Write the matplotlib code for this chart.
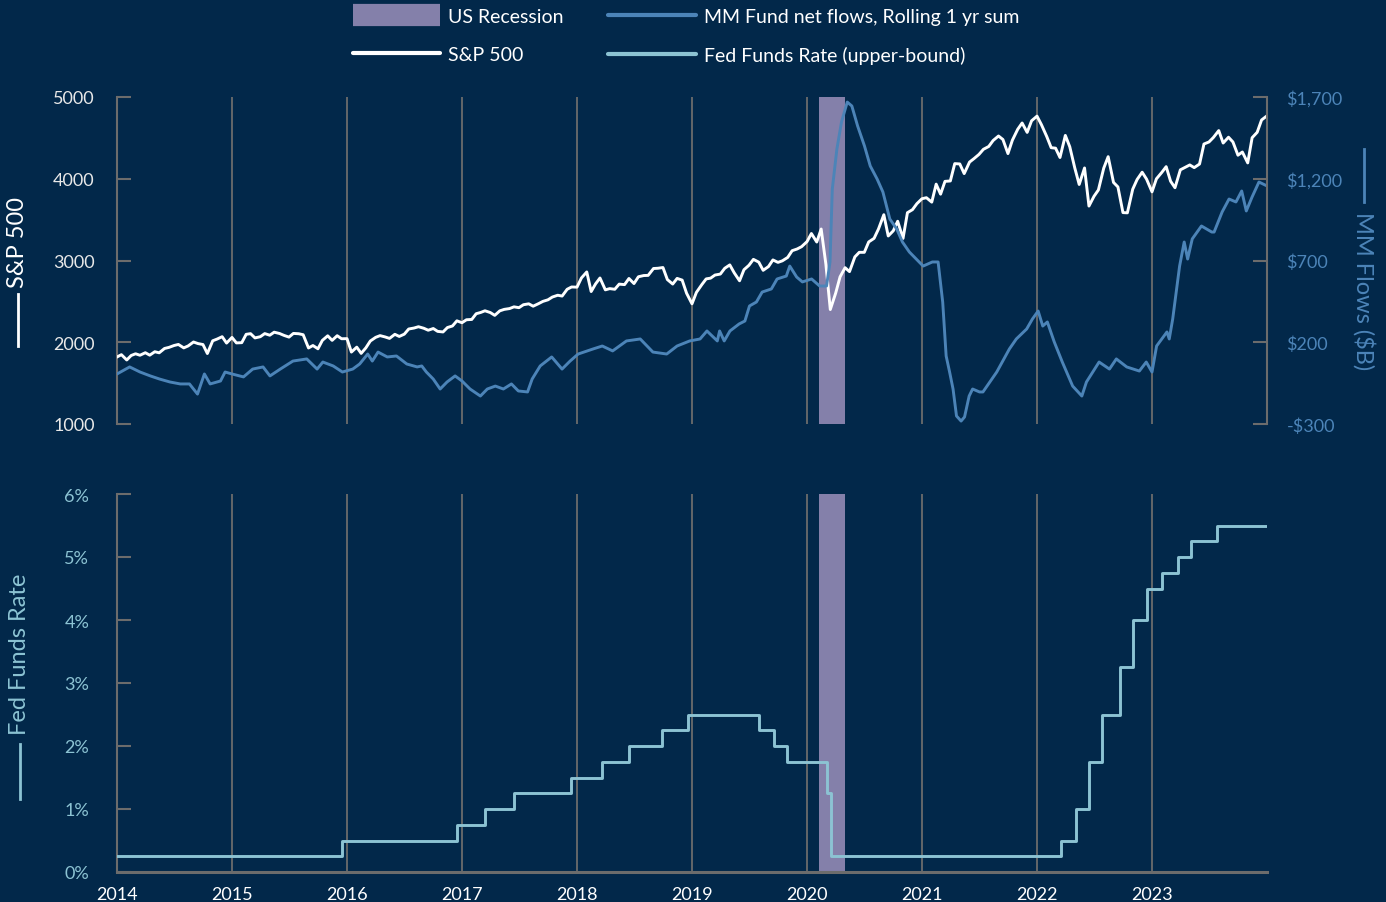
import pandas as pd
import numpy as np
import matplotlib
matplotlib.use('Agg')
import matplotlib.pyplot as plt
from matplotlib.lines import Line2D
from matplotlib.ticker import FuncFormatter

# S&P 500, values on the 1st and 15th of each month (2014-01-01 .. 2024-01-01)
sp_start = '2014-01-01'
sp_values = [
    1820, 1848, 1783, 1838, 1859, 1841, 1872, 1842, 1884, 1871, 1924, 1937,
    1960, 1973, 1931, 1955, 2003, 1984, 1972, 1862, 2018, 2039, 2068, 1990,
    2059, 1992, 1995, 2097, 2105, 2053, 2068, 2106, 2086, 2123, 2107, 2084,
    2063, 2108, 2104, 2092, 1930, 1960, 1920, 2023, 2079, 2023, 2080, 2043,
    2044, 1880, 1940, 1864, 1932, 2015, 2060, 2081, 2065, 2047, 2097, 2071,
    2099, 2162, 2174, 2190, 2171, 2147, 2168, 2133, 2126, 2180, 2199, 2262,
    2239, 2275, 2279, 2349, 2364, 2385, 2363, 2329, 2384, 2402, 2412, 2433,
    2423, 2459, 2470, 2441, 2472, 2500, 2519, 2553, 2575, 2565, 2648, 2676,
    2674, 2786, 2860, 2620, 2714, 2786, 2641, 2656, 2648, 2711, 2705, 2780,
    2718, 2801, 2816, 2818, 2902, 2905, 2914, 2767, 2712, 2781, 2760, 2600,
    2470, 2610, 2704, 2775, 2784, 2822, 2834, 2905, 2946, 2850, 2752, 2887,
    2942, 3014, 2980, 2880, 2926, 3007, 2977, 2996, 3038, 3120, 3141, 3169,
    3231, 3330, 3226, 3385, 2954, 2400, 2600, 2800, 2912, 2864, 3044, 3100,
    3100, 3227, 3271, 3385, 3560, 3300, 3363, 3480, 3270, 3585, 3622, 3695,
    3756, 3768, 3714, 3934, 3811, 3968, 3973, 4185, 4181, 4063, 4204, 4246,
    4298, 4360, 4395, 4468, 4523, 4480, 4308, 4471, 4605, 4682, 4567, 4709,
    4766, 4662, 4516, 4380, 4374, 4260, 4530, 4392, 4132, 3930, 4132, 3666,
    3785, 3863, 4130, 4270, 3955, 3900, 3586, 3583, 3872, 3991, 4080, 3995,
    3840, 3999, 4077, 4148, 3970, 3890, 4109, 4137, 4169, 4136, 4180, 4425,
    4450, 4505, 4589, 4437, 4508, 4450, 4288, 4327, 4194, 4502, 4568, 4719,
    4770,
]

# MM fund net flows, rolling 1 yr sum ($B)
mm_years = [
    2014.00, 2014.11, 2014.20, 2014.29, 2014.37, 2014.46, 2014.55, 2014.63, 2014.70, 2014.76, 2014.81, 2014.90, 2014.94,
    2015.00, 2015.10, 2015.18, 2015.27, 2015.33, 2015.42, 2015.53, 2015.65, 2015.74, 2015.79, 2015.88, 2015.96,
    2016.05, 2016.11, 2016.18, 2016.22, 2016.27, 2016.35, 2016.43, 2016.52, 2016.61, 2016.65, 2016.69, 2016.75, 2016.81, 2016.87, 2016.94,
    2017.00, 2017.07, 2017.16, 2017.22, 2017.29, 2017.36, 2017.43, 2017.49, 2017.57, 2017.61, 2017.68, 2017.78, 2017.87, 2017.94,
    2018.01, 2018.09, 2018.14, 2018.22, 2018.31, 2018.43, 2018.55, 2018.66, 2018.78, 2018.87, 2018.98,
    2019.07, 2019.13, 2019.22, 2019.24, 2019.28, 2019.33, 2019.41, 2019.46, 2019.50, 2019.56, 2019.61, 2019.69, 2019.74, 2019.82, 2019.85, 2019.91, 2019.96,
    2020.04, 2020.11, 2020.17, 2020.20, 2020.22, 2020.26, 2020.30, 2020.35, 2020.39, 2020.44, 2020.50, 2020.55, 2020.61, 2020.66, 2020.72, 2020.78, 2020.83, 2020.89, 2020.95,
    2021.01, 2021.09, 2021.14, 2021.18, 2021.21, 2021.24, 2021.27, 2021.30, 2021.34, 2021.37, 2021.41, 2021.44, 2021.50, 2021.53, 2021.65, 2021.76, 2021.82, 2021.91, 2021.96,
    2022.01, 2022.05, 2022.09, 2022.15, 2022.22, 2022.31, 2022.39, 2022.43, 2022.54, 2022.63, 2022.69, 2022.78, 2022.89, 2022.95,
    2023.00, 2023.04, 2023.13, 2023.15, 2023.18, 2023.24, 2023.28, 2023.31, 2023.35, 2023.43, 2023.52, 2023.54, 2023.61, 2023.67, 2023.73, 2023.78, 2023.82, 2023.87, 2023.93, 2024.00,
]
mm_values = [
    6, 49, 18, -6, -25, -43, -55, -55, -117, 6, -55, -37, 18,
    6, -12, 36, 49, -6, 36, 85, 98, 36, 79, 55, 18,
    36, 67, 128, 85, 140, 110, 116, 67, 49, 55, 18, -25, -86, -43, -6,
    -37, -86, -129, -86, -68, -86, -55, -98, -104, -25, 55, 110, 36, 85,
    128, 147, 159, 177, 147, 208, 220, 140, 128, 177, 208,
    220, 269, 208, 269, 208, 269, 312, 330, 422, 446, 507, 526, 587, 605, 666, 599, 569,
    587, 544, 544, 691, 1137, 1382, 1547, 1669, 1645, 1523, 1400, 1278, 1198, 1119, 954, 893, 813, 752, 709,
    666, 691, 691, 446, 116, 18, -86, -251, -282, -257, -129, -86, -104, -104, 18, 159, 220, 281, 342,
    391, 299, 324, 202, 79, -68, -129, -43, 79, 36, 98, 49, 24, 79,
    18, 177, 263, 220, 342, 666, 813, 709, 832, 911, 874, 874, 997, 1076, 1058, 1125, 1003, 1088, 1180, 1156,
]

# Fed funds target rate, upper bound (%), dates of change
fed_dates = ['2014-01-01', '2015-12-17', '2016-12-15', '2017-03-16', '2017-06-15', '2017-12-14',
             '2018-03-22', '2018-06-14', '2018-09-27', '2018-12-20', '2019-08-01', '2019-09-19',
             '2019-10-31', '2020-03-04', '2020-03-16', '2022-03-17', '2022-05-05', '2022-06-16',
             '2022-07-28', '2022-09-22', '2022-11-03', '2022-12-15', '2023-02-02', '2023-03-23',
             '2023-05-04', '2023-07-27', '2023-12-31']
fed_rates = [0.25, 0.50, 0.75, 1.00, 1.25, 1.50, 1.75, 2.00, 2.25, 2.50, 2.25, 2.00,
             1.75, 1.25, 0.25, 0.50, 1.00, 1.75, 2.50, 3.25, 4.00, 4.50, 4.75, 5.00,
             5.25, 5.50, 5.50]

recession = (2020.10, 2020.33)
years = list(range(2014, 2024))

BG = '#02284a'
GRID = '#6c6c6c'
WHITE = '#ffffff'
MM_BLUE = '#4c84b8'
FED_BLUE = '#8cc3d3'
REC = '#8480aa'


def to_year(dates):
    d = pd.to_datetime(dates)
    return np.asarray(d.year + (d.dayofyear - 1) / 365.25)


def plot_chart():
    plt.rcParams['font.family'] = ['Lato', 'DejaVu Sans']
    W, H = 1386, 903
    fig = plt.figure(figsize=(W / 100, H / 100), dpi=100, facecolor=BG)

    sp_x = to_year(pd.date_range(sp_start, periods=len(sp_values), freq='SMS'))
    fed_x = to_year(fed_dates)

    # --- top panel: S&P 500 + MM flows
    ax1 = fig.add_axes([117 / W, 1 - 425 / H, 1150 / W, 327 / H])
    ax1.set_facecolor(BG)
    ax1.axvspan(*recession, color=REC, lw=0, zorder=1)
    ax1.plot(sp_x, sp_values, color=WHITE, lw=2.1, zorder=3)
    ax1.set_xlim(2014, 2024)
    ax1.set_ylim(1000, 5000)
    ax1.set_yticks([1000, 2000, 3000, 4000, 5000])
    ax1.set_xticks(years)
    ax1.grid(axis='x', color=GRID, lw=1.3, zorder=0)
    ax1.set_axisbelow(True)
    ax1.tick_params(axis='x', length=0, labelbottom=False)
    ax1.tick_params(axis='y', direction='in', length=10, width=1.5, color=GRID,
                    labelcolor='#e8e8e8', labelsize=13, pad=16)
    for s in ['top', 'bottom', 'right']:
        ax1.spines[s].set_visible(False)
    ax1.spines['left'].set_color(GRID)
    ax1.spines['left'].set_linewidth(1.5)

    ax2 = ax1.twinx()
    ax2.plot(mm_years, mm_values, color=MM_BLUE, lw=2.1)
    ax2.set_ylim(-300, 1700)
    ax2.set_yticks([-300, 200, 700, 1200, 1700])
    ax2.yaxis.set_major_formatter(FuncFormatter(
        lambda v, _: ('-$' if v < 0 else '$') + f'{abs(v):,.0f}'))
    ax2.tick_params(axis='y', direction='in', length=10, width=1.5, color=GRID,
                    labelcolor=MM_BLUE, labelsize=13, pad=14)
    for s in ['top', 'bottom', 'left']:
        ax2.spines[s].set_visible(False)
    ax2.spines['right'].set_color(GRID)
    ax2.spines['right'].set_linewidth(1.5)

    # --- bottom panel: Fed funds rate
    ax3 = fig.add_axes([117 / W, 1 - 873 / H, 1150 / W, 378 / H])
    ax3.set_facecolor(BG)
    ax3.axvspan(*recession, color=REC, lw=0, zorder=1)
    ax3.plot(fed_x, fed_rates, color=FED_BLUE, lw=2.1, drawstyle='steps-post', zorder=3)
    ax3.set_xlim(2014, 2024)
    ax3.set_ylim(0, 6)
    ax3.set_xticks(years)
    ax3.set_xticklabels([str(y) for y in years])
    ax3.set_yticks(range(0, 7))
    ax3.yaxis.set_major_formatter(FuncFormatter(lambda v, _: f'{v:.0f}%'))
    ax3.grid(axis='x', color=GRID, lw=1.3, zorder=0)
    ax3.set_axisbelow(True)
    ax3.tick_params(axis='x', length=0, labelcolor=WHITE, labelsize=13, pad=10)
    ax3.tick_params(axis='y', direction='in', length=10, width=1.5, color=GRID,
                    labelcolor=FED_BLUE, labelsize=13, pad=20)
    for s in ['top', 'right']:
        ax3.spines[s].set_visible(False)
    for s in ['left', 'bottom']:
        ax3.spines[s].set_color(GRID)
    ax3.spines['left'].set_linewidth(1.5)
    ax3.spines['bottom'].set_linewidth(2.2)

    # axis titles with a short line key
    def side_label(x, y_text, y0, y1, text, color, rot):
        fig.text(x / W, 1 - y_text / H, text, color=color, fontsize=17,
                 rotation=rot, ha='center', va='center')
        fig.add_artist(Line2D([x / W, x / W], [1 - y0 / H, 1 - y1 / H],
                              color=color, lw=2))

    side_label(18, 242, 295, 347, 'S&P 500', WHITE, 90)
    side_label(20, 654, 745, 800, 'Fed Funds Rate', FED_BLUE, 90)
    side_label(1364, 291, 150, 203, 'MM Flows ($B)', MM_BLUE, 270)

    # legend
    handles = [
        Line2D([], [], color=REC, lw=16, solid_capstyle='butt'),
        Line2D([], [], color=WHITE, lw=3, solid_capstyle='round'),
        Line2D([], [], color=MM_BLUE, lw=3, solid_capstyle='round'),
        Line2D([], [], color=FED_BLUE, lw=3, solid_capstyle='round'),
    ]
    labels = ['US Recession', 'S&P 500', 'MM Fund net flows, Rolling 1 yr sum',
              'Fed Funds Rate (upper-bound)']
    fig.legend(handles, labels, loc='center', bbox_to_anchor=(686 / W, 1 - 37 / H),
               ncol=2, frameon=False, fontsize=14, labelcolor=WHITE,
               handlelength=4.5, handletextpad=0.4, columnspacing=2.3,
               labelspacing=1.05)

    fig.savefig('out.png', dpi=100, facecolor=BG)
    print('saved out.png')


if __name__ == '__main__':
    plot_chart()
